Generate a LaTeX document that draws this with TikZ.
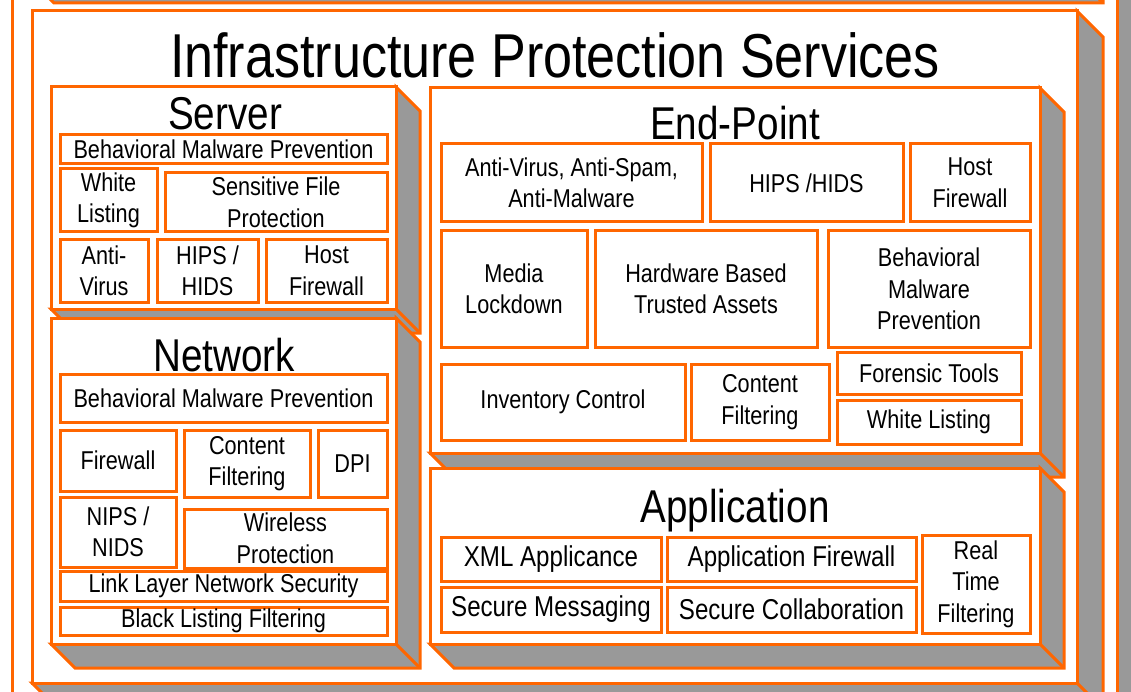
\documentclass[tikz,border=0pt]{standalone}
\usepackage{fontspec}
\newfontfamily\nar[FakeStretch=0.84]{Liberation Sans}
\definecolor{org}{HTML}{FF6600}
\definecolor{sh}{HTML}{999999}
\tikzset{
 edge3d/.style={draw=org, line width=3pt, line join=miter},
 ibox/.style={draw=org, line width=3pt, fill=white, inner sep=0pt, align=center, font=\nar\fontsize{25.8}{31.5}\selectfont},
 bigtext/.style={font=\nar\fontsize{28.7}{33}\selectfont},
 ttl/.style={anchor=base, inner sep=0pt, font=\nar\fontsize{46}{50}\selectfont},
}
\newcommand\threed[5]{%
 \filldraw[edge3d, fill=sh] (#3,#2) -- ({#3+#5},{#2+#5}) -- ({#3+#5},{#4+#5}) -- ({#1+#5},{#4+#5}) -- (#1,#4) -- (#3,#4) -- cycle;
 \draw[edge3d] (#3,#4) -- ({#3+#5},{#4+#5});
 \filldraw[edge3d, fill=white] (#1,#2) rectangle (#3,#4);
}
\newcommand\ib[7][]{%
 \node[ibox, #1, minimum width={(#5-#3)*1pt}, minimum height={(#6-#4)*1pt}] (#2) at ({(#3+#5)/2},{(#4+#6)/2}) {#7};
}
\begin{document}
\begin{tikzpicture}[x=1pt,y=-1pt]
\useasboundingbox (0,0) rectangle (1131,692);
\clip (0,0) rectangle (1131,692);
% outermost frame
\fill[sh] (1117,-10) rectangle (1150,710);
\filldraw[edge3d, fill=white] (12,-10) rectangle (1117,710);
% box above (cut off)
\threed{28}{-200}{1077}{-23}{26}
% main box
\threed{32}{11}{1077}{683}{26}
\node[ttl, font=\nar\fontsize{62}{70}\selectfont] (title) at (555,78) {Infrastructure Protection Services};
% Server
\threed{51}{87}{396}{309}{24}
\node[ttl] (server) at (225,130) {Server};
\ib{s1}{60}{135}{387}{164}{Behavioral Malware Prevention}
\ib{s2}{60}{169}{157}{232}{White\\Listing}
\ib{s3}{165}{173}{387}{232}{Sensitive File\\Protection}
\ib{s4}{60}{240}{148}{302}{Anti-\\Virus}
\ib{s5}{157}{240}{258}{302}{HIPS /\\HIDS}
\ib{s6}{266}{240}{387}{302}{Host\\Firewall}
% Network
\threed{51}{318}{396}{644}{24}
\node[ttl] (network) at (224,371) {Network};
\ib{n1}{60}{374}{387}{422}{Behavioral Malware Prevention}
\ib{n2}{60}{430}{176}{491}{Firewall}
\ib{n3}{184}{430}{310}{497}{Content\\Filtering}
\ib{n4}{318}{430}{387}{497}{DPI}
\ib{n5}{60}{497}{176}{567}{NIPS /\\NIDS}
\ib{n6}{184}{509}{387}{568}{Wireless\\Protection}
\ib{n7}{60}{571}{387}{601}{Link Layer Network Security}
\ib{n8}{60}{607}{387}{635}{Black Listing Filtering}
% End-Point
\threed{430}{88}{1040}{453}{24}
\node[ttl] (endpoint) at (735,140) {End-Point};
\ib{e1}{441}{144}{702}{222}{Anti-Virus, Anti-Spam,\\Anti-Malware}
\ib{e2}{710}{144}{903}{222}{HIPS /HIDS}
\ib{e3}{910}{144}{1030}{222}{Host\\Firewall}
\ib{e4}{441}{231}{587}{347}{Media\\Lockdown}
\ib{e5}{595}{231}{817}{347}{Hardware Based\\Trusted Assets}
\ib{e6}{828}{231}{1030}{347}{Behavioral\\Malware\\Prevention}
\ib{e7}{441}{364}{685}{440}{Inventory Control}
\ib{e8}{691}{364}{829}{440}{Content\\Filtering}
\ib{e9}{837}{352}{1021}{394}{Forensic Tools}
\ib{e10}{837}{400}{1021}{444}{White Listing}
% Application
\threed{430}{468}{1040}{644}{24}
\node[ttl] (application) at (735,522) {Application};
\ib[bigtext]{a1}{441}{537}{661}{581}{XML Applicance}
\ib[bigtext]{a2}{667}{537}{916}{581}{Application Firewall}
\ib[bigtext]{a3}{441}{587}{661}{632}{Secure Messaging}
\ib[bigtext]{a4}{667}{587}{916}{632}{Secure Collaboration}
\ib{a5}{922}{535}{1030}{633}{Real\\Time\\Filtering}
\end{tikzpicture}
\end{document}
